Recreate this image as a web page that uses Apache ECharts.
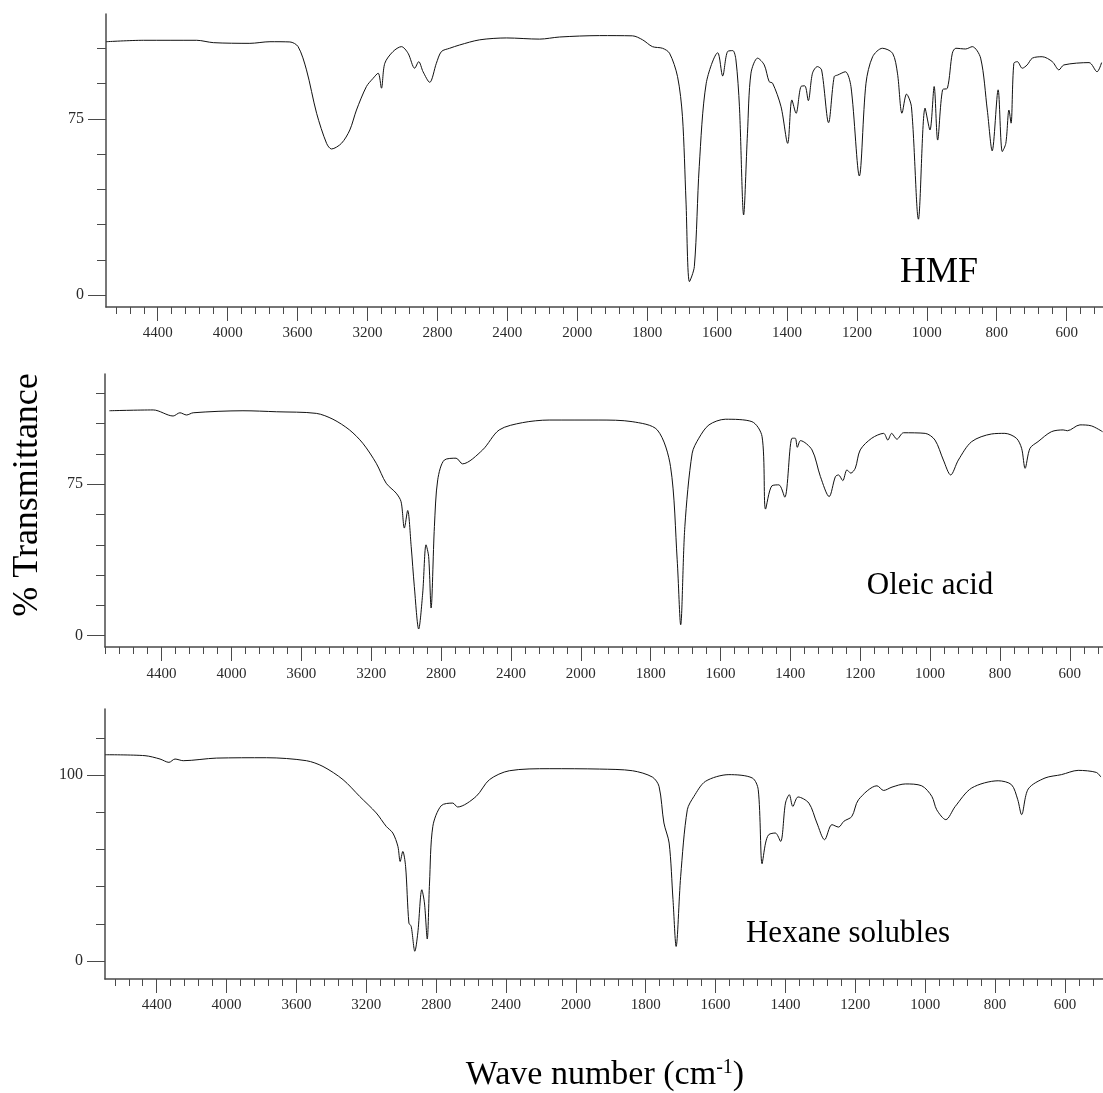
<!DOCTYPE html>
<html>
<head>
<meta charset="utf-8">
<title>FTIR spectra</title>
<script src="https://cdn.jsdelivr.net/npm/echarts@6/dist/echarts.min.js"></script>
<style>
  html, body { margin: 0; padding: 0; background: #fff; }
  #chart { width: 1103px; height: 1093px; }
</style>
</head>
<body>
<div id="chart"></div>
<script>
  // wave numbers (cm-1) and % transmittance
  var hmfWn = [4695, 4482, 4177, 4082, 3873, 3758, 3644, 3597, 3549, 3491, 3434, 3406, 3349, 3301, 3263, 3206, 3168, 3139, 3120, 3101,
    3054, 3006, 2968, 2930, 2907, 2882, 2844, 2806, 2777, 2730, 2673, 2558, 2404, 2215, 2101, 1936, 1842, 1813, 1785, 1756,
    1736, 1713, 1699, 1689, 1679, 1665, 1651, 1631, 1598, 1584, 1570, 1555, 1546, 1536, 1524, 1513, 1503, 1484, 1465, 1451,
    1441, 1417, 1398, 1386, 1374, 1360, 1349, 1339, 1327, 1313, 1301, 1281, 1265, 1255, 1233, 1217, 1193, 1174, 1155, 1127,
    1098, 1084, 1071, 1058, 1044, 1024, 1005, 991, 979, 969, 955, 941, 927, 917, 889, 870, 846, 827, 813, 796,
    784, 774, 765, 759, 751, 741, 727, 713, 698, 670, 641, 622, 608, 536, 513, 500];
  var hmfT = [107.9, 108.5, 108.5, 107.5, 107.2, 107.9, 107.8, 105.8, 95.9, 77.4, 64.6, 62.2, 64.6, 70.3, 78.8, 88.8, 92.3, 94.5, 88.1, 98.7,
    103.7, 105.8, 103, 96.6, 99.4, 95.1, 90.6, 98.7, 103.7, 105.1, 106.5, 108.7, 109.5, 109, 109.9, 110.5, 110.4, 108.7, 105.8, 105.1,
    103, 93, 76, 40.5, 5.7, 12.1, 54.7, 90.2, 103.2, 93.3, 103.7, 104.1, 100.1, 80.2, 34.1, 68.9, 94.5, 100.9, 98, 90.9,
    90.2, 80.2, 64.6, 83.1, 77.4, 88.8, 89.1, 82.8, 94.5, 97.3, 95.9, 73.4, 93, 93.7, 95.1, 88.8, 50.7, 90.2, 101.5, 105.1,
    103, 94.5, 77.4, 85.6, 80.2, 32.3, 79.6, 70.3, 88.8, 66, 87.4, 88.1, 103, 105.1, 104.8, 105.8, 100.9, 78.8, 61.4, 87.4,
    61.1, 64.6, 78.8, 73.2, 98.7, 99.4, 96.6, 98, 100.9, 101.5, 99.4, 95.9, 98, 99, 95.1, 99];

  var oleicWn = [4699, 4448, 4334, 4295, 4257, 4219, 3934, 3743, 3514, 3419, 3324, 3248, 3171, 3114, 3057, 3029, 3010, 2991, 2971, 2953,
    2928, 2905, 2886, 2871, 2857, 2838, 2819, 2781, 2714, 2677, 2562, 2467, 2334, 2181, 1948, 1853, 1781, 1743, 1724, 1714,
    1702, 1681, 1662, 1633, 1586, 1510, 1481, 1471, 1453, 1433, 1416, 1395, 1386, 1380, 1371, 1338, 1314, 1289, 1271, 1262,
    1250, 1238, 1227, 1214, 1200, 1167, 1133, 1121, 1110, 1095, 1076, 1014, 986, 962, 941, 919, 881, 824, 786, 753,
    738, 728, 714, 691, 653, 619, 607, 571, 538, 506];
  var oleicT = [111.4, 111.8, 108.8, 110.4, 109.3, 110.4, 111.4, 110.9, 110.1, 107.2, 101.9, 95.3, 85.4, 75.5, 70.6, 66.4, 53.3, 62, 44.2, 24.4,
    3.3, 21.1, 45, 39.2, 13.7, 54.1, 77.2, 87, 87.9, 85.1, 92, 101.9, 105.5, 106.8, 106.8, 106, 101.9, 83.7, 37.6, 5.4,
    54.1, 90.4, 97.8, 104.4, 107.2, 106, 98.6, 62.7, 74.2, 74.7, 68.6, 97.8, 97.8, 93.3, 96.6, 92, 78.8, 68.9, 78.8, 79.6,
    76.8, 82.1, 80.5, 83, 92, 97.8, 100.2, 96.9, 100.2, 97.3, 100.5, 100.2, 96.9, 87, 79.6, 87, 96.1, 99.9, 100.2, 97.8,
    92.8, 82.9, 92.8, 96.1, 101, 101.9, 101.5, 104.4, 103.9, 101];

  var hexWn = [4695, 4467, 4381, 4330, 4295, 4248, 4057, 3771, 3543, 3448, 3333, 3238, 3143, 3086, 3048, 3019, 3006, 2991, 2975, 2956,
    2943, 2922, 2905, 2882, 2867, 2851, 2838, 2819, 2771, 2705, 2677, 2571, 2495, 2381, 2153, 1933, 1838, 1781, 1762, 1748,
    1733, 1722, 1713, 1700, 1681, 1662, 1629, 1562, 1495, 1478, 1467, 1457, 1448, 1429, 1414, 1400, 1389, 1379, 1364, 1333,
    1310, 1288, 1267, 1248, 1233, 1210, 1191, 1138, 1119, 1095, 1057, 1010, 981, 967, 941, 914, 867, 791, 753, 735,
    724, 705, 657, 610, 562, 510, 497];
  var hexT = [110.9, 110.4, 108.6, 106.8, 108.6, 107.7, 109.1, 109.3, 107.7, 104.6, 97.5, 88.5, 79.6, 72.4, 68.8, 61.6, 53.5, 58.9, 50.9, 20.4,
    18.6, 5.2, 15.1, 38.3, 31.2, 11.8, 41.9, 72.4, 83.5, 84.9, 82.8, 88.5, 97.5, 102.3, 103.4, 103.2, 102.3, 98.9, 93.9, 74.2,
    63.4, 33, 7.8, 45.5, 81.3, 88.5, 96.6, 100.2, 98.4, 92.1, 52.3, 63.4, 67.9, 68.8, 64.3, 84.9, 89.4, 83.1, 88.2, 84.9,
    74.2, 65.2, 73.3, 72, 75.1, 77.7, 86.7, 94.2, 91.7, 93.5, 95.2, 94.2, 88.5, 81.3, 76, 83.1, 93, 96.9, 94.8, 86.7,
    78.7, 92.5, 98.4, 100.2, 102.5, 101.4, 98.9];

  // tick labels
  var waveLabels = [4400, 4000, 3600, 3200, 2800, 2400, 2000, 1800, 1600, 1400, 1200, 1000, 800, 600];
  var yLabels = [[0, 75], [0, 75], [0, 100]];
  var yMinorStep = [15, 15, 20];
  var panelNames = ['HMF', 'Oleic acid', 'Hexane solubles'];

  var FONT = '"Liberation Serif", "Times New Roman", serif';

  // the spectrometer scale halves above 2000 cm-1
  function toAxis(w) { return w <= 2000 ? w : 2000 + (w - 2000) / 2; }
  function fromAxis(t) { return t <= 2000 ? t : 2000 + (t - 2000) * 2; }

  function pairs(wn, tr) {
    var out = [];
    for (var i = 0; i < wn.length; i++) out.push([toAxis(wn[i]), tr[i]]);
    return out;
  }

  var panels = [
    {grid: {left: 106, top: 14, width: 997, height: 293}, x: [496, 3348], y: [-5.1, 119.7], data: pairs(hmfWn, hmfT), lm: 19},
    {grid: {left: 105, top: 374, width: 998, height: 273}, x: [505, 3362], y: [-5.6, 129.6], data: pairs(oleicWn, oleicT), lm: 20},
    {grid: {left: 105, top: 709, width: 998, height: 270}, x: [491, 3348], y: [-9.7, 135.5], data: pairs(hexWn, hexT), lm: 19}
  ];

  var grids = [], xAxes = [], yAxes = [], series = [];
  var axisColor = '#4a4a4a';

  panels.forEach(function (p, i) {
    p.grid.outerBoundsMode = 'none';
    p.grid.containLabel = false;
    grids.push(p.grid);

    var minorX = [];
    for (var t = Math.ceil(p.x[0] / 40) * 40; t <= p.x[1]; t += 40) minorX.push(t);
    var majorX = waveLabels.map(toAxis);

    // short ticks + axis line
    xAxes.push({
      type: 'value', gridIndex: i, position: 'bottom', offset: 0,
      min: p.x[0], max: p.x[1], inverse: true,
      axisLine: {show: true, onZero: false, lineStyle: {color: axisColor, width: 1.5}},
      axisTick: {show: true, length: 7, customValues: minorX, lineStyle: {color: axisColor}},
      axisLabel: {show: false},
      splitLine: {show: false}
    });
    // long ticks with labels
    xAxes.push({
      type: 'value', gridIndex: i, position: 'bottom', offset: 0,
      min: p.x[0], max: p.x[1], inverse: true,
      axisLine: {show: false, onZero: false},
      axisTick: {show: true, length: 14, customValues: majorX, lineStyle: {color: axisColor}},
      axisLabel: {
        customValues: majorX, margin: p.lm, color: '#2a2a2a', fontFamily: FONT, fontSize: 15,
        formatter: function (v) { return String(Math.round(fromAxis(v))); }
      },
      splitLine: {show: false}
    });

    var minorY = [];
    for (var v = 0; v <= p.y[1]; v += yMinorStep[i]) minorY.push(v);

    yAxes.push({
      type: 'value', gridIndex: i, position: 'left', offset: 0,
      min: p.y[0], max: p.y[1],
      axisLine: {show: true, onZero: false, lineStyle: {color: axisColor, width: 1.5}},
      axisTick: {show: true, length: 9, customValues: minorY, lineStyle: {color: axisColor}},
      axisLabel: {show: false},
      splitLine: {show: false}
    });
    yAxes.push({
      type: 'value', gridIndex: i, position: 'left', offset: 0,
      min: p.y[0], max: p.y[1],
      axisLine: {show: false, onZero: false},
      axisTick: {show: true, length: 18, customValues: yLabels[i], lineStyle: {color: axisColor}},
      axisLabel: {customValues: yLabels[i], margin: 22, color: '#2a2a2a', fontFamily: FONT, fontSize: 16},
      splitLine: {show: false}
    });

    series.push({
      name: panelNames[i],
      type: 'line',
      xAxisIndex: i * 2,
      yAxisIndex: i * 2,
      data: p.data,
      showSymbol: false,
      smooth: 0.3,
      lineStyle: {color: '#111', width: 1},
      silent: true
    });
  });

  var chart = echarts.init(document.getElementById('chart'), null, {renderer: 'canvas'});
  chart.setOption({
    animation: false,
    backgroundColor: '#fff',
    grid: grids,
    xAxis: xAxes,
    yAxis: yAxes,
    series: series,
    graphic: [
      {type: 'text', x: 939, y: 273, style: {text: 'HMF', font: '36px ' + FONT, fill: '#000', align: 'center', verticalAlign: 'middle'}},
      {type: 'text', x: 930, y: 586, style: {text: 'Oleic acid', font: '31px ' + FONT, fill: '#000', align: 'center', verticalAlign: 'middle'}},
      {type: 'text', x: 848, y: 934, style: {text: 'Hexane solubles', font: '31px ' + FONT, fill: '#000', align: 'center', verticalAlign: 'middle'}},
      {type: 'text', x: 28, y: 495, rotation: Math.PI / 2,
        style: {text: '% Transmittance', font: '36px ' + FONT, fill: '#000', align: 'center', verticalAlign: 'middle'}},
      {type: 'text', x: 605, y: 1075,
        style: {
          text: '{n|Wave number (cm}{s|-1}{n|)}', align: 'center', verticalAlign: 'middle',
          rich: {
            n: {fontFamily: FONT, fontSize: 34, fill: '#000'},
            s: {fontFamily: FONT, fontSize: 20, fill: '#000', verticalAlign: 'top', padding: [0, 0, 14, 0]}
          }
        }}
    ]
  });
</script>
</body>
</html>
